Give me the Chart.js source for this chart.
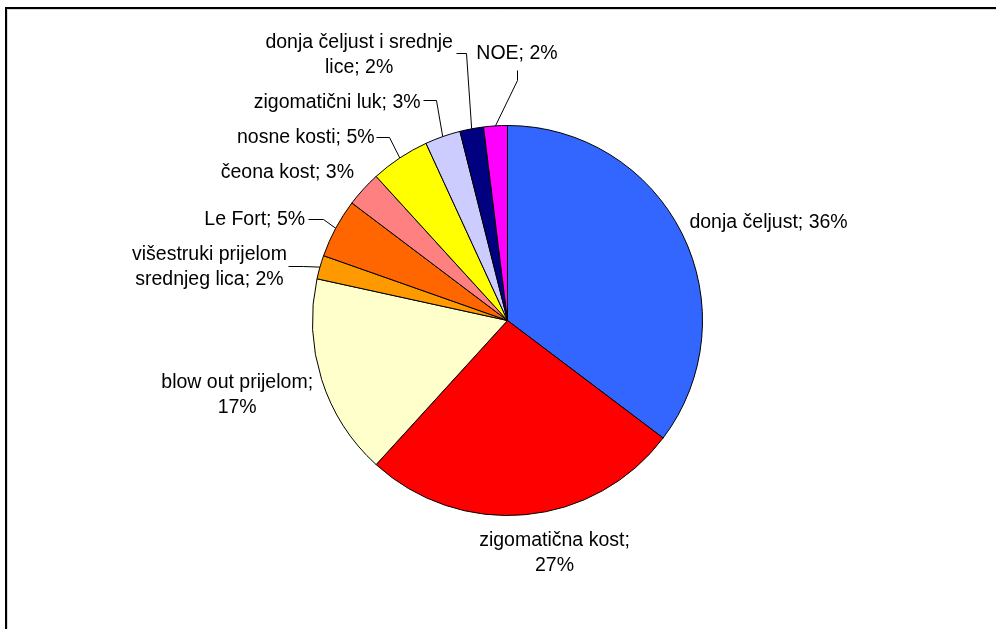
<!DOCTYPE html>
<html>
<head>
<meta charset="utf-8">
<script src="https://cdn.jsdelivr.net/npm/chart.js@4.4.0/dist/chart.umd.min.js"></script>
<style>
  html, body { margin: 0; padding: 0; background: #fff; }
  #wrap { width: 996px; height: 629px; }
</style>
</head>
<body>
<div id="wrap"><canvas id="prijelomi" width="996" height="629"></canvas></div>
<script>
// udio pojedinih prijeloma (%)
var categories = ['donja čeljust', 'zigomatična kost', 'blow out prijelom',
  'višestruki prijelom srednjeg lica', 'Le Fort', 'čeona kost', 'nosne kosti',
  'zigomatični luk', 'donja čeljust i srednje lice', 'NOE'];
var shares = [36, 27, 17, 2, 5, 3, 5, 3, 2, 2];
var sliceColors = ['#3366FF', '#FF0000', '#FFFFCC', '#FF9900', '#FF6600',
  '#FF8080', '#FFFF00', '#CCCCFF', '#000080', '#FF00FF'];

// where each label sits, measured from the middle of its slice's rim
// leader: points of the connector line (same origin), null = no line
var labelLayout = [
  { dx: 86.5, dy: -12.7, wrap: 0, leader: null },
  { dx: 29, dy: 37, wrap: 160, leader: null },
  { dx: -84.5, dy: 13.5, wrap: 160, leader: null },
  { dx: -110.5, dy: -1.6, wrap: 170, leader: [[-16.5, -1.6], [-31.5, -1.6]] },
  { dx: -81, dy: -10, wrap: 0, leader: [[-13, -9], [-28, -9]] },
  { dx: -76, dy: -18, wrap: 0, leader: null },
  { dx: -94, dy: -22, wrap: 0, leader: [[-11, -21], [-24, -21]] },
  { dx: -105.5, dy: -36, wrap: 0, leader: [[-7, -37], [-20, -37]] },
  { dx: -112.5, dy: -75.5, wrap: 195, leader: [[-6, -76], [-16, -76]] },
  { dx: 21.5, dy: -73.7, wrap: 0, leader: [[22, -46], [22, -56]] }
];

var FONT = '19.5px "Liberation Sans", Arial, sans-serif';
var LINE_H = 25;

function wrapText(ctx, text, maxW) {
  if (!maxW) return [text];
  var words = text.split(' ');
  var lines = [];
  var cur = '';
  words.forEach(function (w) {
    var test = cur ? cur + ' ' + w : w;
    if (cur && ctx.measureText(test).width > maxW) {
      lines.push(cur);
      cur = w;
    } else {
      cur = test;
    }
  });
  if (cur) lines.push(cur);
  return lines;
}

var framePlugin = {
  id: 'frame',
  beforeDraw: function (chart) {
    var ctx = chart.ctx;
    ctx.save();
    ctx.fillStyle = '#fff';
    ctx.fillRect(0, 0, chart.width, chart.height);
    ctx.strokeStyle = '#d9d9d9';
    ctx.lineWidth = 1;
    ctx.beginPath();
    ctx.moveTo(7.5, chart.height + 5);
    ctx.lineTo(7.5, 9.5);
    ctx.lineTo(chart.width + 5, 9.5);
    ctx.stroke();
    ctx.strokeStyle = '#000';
    ctx.lineWidth = 2;
    ctx.beginPath();
    ctx.moveTo(6, chart.height + 5);
    ctx.lineTo(6, 8);
    ctx.lineTo(chart.width + 5, 8);
    ctx.stroke();
    ctx.restore();
  }
};

var sliceLabels = {
  id: 'sliceLabels',
  afterDatasetsDraw: function (chart) {
    var ctx = chart.ctx;
    var arcs = chart.getDatasetMeta(0).data;
    ctx.save();
    ctx.font = FONT;
    ctx.fillStyle = '#000';
    ctx.strokeStyle = '#000';
    ctx.lineWidth = 1;
    ctx.textAlign = 'center';
    ctx.textBaseline = 'alphabetic';
    arcs.forEach(function (arc, i) {
      var p = arc.getProps(['x', 'y', 'startAngle', 'endAngle', 'outerRadius'], true);
      var mid = (p.startAngle + p.endAngle) / 2;
      var ex = p.x + p.outerRadius * Math.cos(mid);
      var ey = p.y + p.outerRadius * Math.sin(mid);
      var lay = labelLayout[i];
      if (lay.leader) {
        ctx.beginPath();
        ctx.moveTo(ex, ey);
        lay.leader.forEach(function (pt) {
          ctx.lineTo(Math.round(ex + pt[0]) + 0.5, Math.round(ey + pt[1]) + 0.5);
        });
        ctx.stroke();
      }
      var text = categories[i] + '; ' + shares[i] + '%';
      var lines = wrapText(ctx, text, lay.wrap);
      var cx = ex + lay.dx;
      var cy = ey + lay.dy;
      var first = cy - (lines.length - 1) * LINE_H / 2 + 7;
      lines.forEach(function (ln, k) {
        ctx.fillText(ln, cx, first + k * LINE_H);
      });
    });
    ctx.restore();
  }
};

new Chart(document.getElementById('prijelomi'), {
  type: 'pie',
  data: {
    labels: categories,
    datasets: [{
      data: shares,
      backgroundColor: sliceColors,
      borderColor: '#000',
      borderWidth: 1
    }]
  },
  options: {
    responsive: false,
    animation: false,
    layout: { padding: { left: 312, right: 293, top: 125, bottom: 113 } },
    plugins: {
      legend: { display: false },
      tooltip: { enabled: false }
    }
  },
  plugins: [framePlugin, sliceLabels]
});
</script>
</body>
</html>
